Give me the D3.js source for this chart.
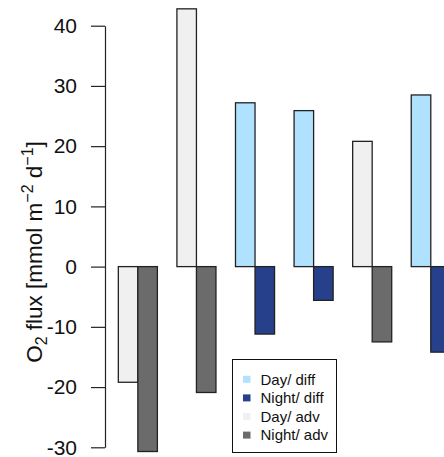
<!DOCTYPE html>
<html>
<head>
<meta charset="utf-8">
<script src="https://cdn.jsdelivr.net/npm/d3@7"></script>
<style>
  body { margin: 0; background: #fff; }
  text { font-family: "Liberation Sans", Arial, sans-serif; }
</style>
</head>
<body>
<script>
var width = 444,
    height = 457;

// values
var types = ["adv", "adv", "diff", "diff", "adv", "diff"];
var dayFlux = [-19.2, 42.8, 27.2, 25.9, 20.8, 28.5];
var nightFlux = [-30.7, -20.9, -11.2, -5.6, -12.5, -14.2];
var yTicks = [-30, -20, -10, 0, 10, 20, 30, 40];
var legendLabels = ["Day/ diff", "Night/ diff", "Day/ adv", "Night/ adv"];
var legendKeys = ["day_diff", "night_diff", "day_adv", "night_adv"];

var colors = {
  day_diff: "#b0e2ff",
  night_diff: "#26408b",
  day_adv: "#f0f0f0",
  night_adv: "#6b6b6b"
};

var svg = d3.select("body").append("svg")
    .attr("width", width)
    .attr("height", height);

var y = d3.scaleLinear().domain([-30, 40]).range([447.3, 25.7]);
// bar units, like barplot(beside=TRUE, space=c(0,1))
var x = d3.scaleLinear().domain([0, 18]).range([98.8, 450.3]);

var bars = [];
dayFlux.forEach(function(v, i) {
  bars.push({u: 1 + 3 * i, v: v, key: "day_" + types[i]});
  bars.push({u: 2 + 3 * i, v: nightFlux[i], key: "night_" + types[i]});
});

svg.selectAll("rect.bar")
    .data(bars)
  .enter().append("rect")
    .attr("class", "bar")
    .attr("x", function(d) { return x(d.u); })
    .attr("width", function(d) { return x(d.u + 1) - x(d.u); })
    .attr("y", function(d) { return y(Math.max(0, d.v)); })
    .attr("height", function(d) { return Math.abs(y(d.v) - y(0)); })
    .attr("fill", function(d) { return colors[d.key]; })
    .attr("stroke", "#222")
    .attr("stroke-width", 1.3);

// y axis, R style
var axis = svg.append("g")
    .attr("transform", "translate(105,0)")
    .call(d3.axisLeft(y).tickValues(yTicks)
      .tickFormat(function(d) { return String(d); })
      .tickSize(14).tickPadding(14).tickSizeOuter(0));
axis.select(".domain").attr("stroke", "#222").attr("stroke-width", 1.2);
axis.selectAll(".tick line").attr("stroke", "#222").attr("stroke-width", 1.2);
axis.selectAll(".tick text")
    .attr("fill", "#111")
    .style("font-size", "21px")
    .style("font-family", "'Liberation Sans', Arial, sans-serif");

// y label
var lab = svg.append("text")
    .attr("transform", "translate(42,252) rotate(-90)")
    .attr("text-anchor", "middle")
    .attr("fill", "#111")
    .style("font-size", "22.5px");
lab.append("tspan").text("O");
lab.append("tspan").attr("dy", 5).style("font-size", "16px").text("2");
lab.append("tspan").attr("dy", -5).text(" flux [mmol m");
lab.append("tspan").attr("dy", -9).style("font-size", "16px").text("\u22122");
lab.append("tspan").attr("dy", 9).text(" d");
lab.append("tspan").attr("dy", -9).style("font-size", "16px").text("\u22121");
lab.append("tspan").attr("dy", 9).text("]");

// legend
var legend = svg.append("g");
legend.append("rect")
    .attr("x", 232.5).attr("y", 359.5)
    .attr("width", 104).attr("height", 93)
    .attr("fill", "#fff")
    .attr("stroke", "#111")
    .attr("stroke-width", 1);

var rows = legend.selectAll("g.row")
    .data(legendLabels)
  .enter().append("g")
    .attr("class", "row")
    .attr("transform", function(d, i) { return "translate(0," + (379.3 + i * 18.6) + ")"; });
rows.append("rect")
    .attr("x", 243).attr("y", -3.5)
    .attr("width", 7.5).attr("height", 7)
    .attr("fill", function(d, i) { return colors[legendKeys[i]]; });
rows.append("text")
    .attr("x", 260.5)
    .attr("dy", "0.35em")
    .attr("fill", "#111")
    .style("font-size", "15px")
    .text(function(d) { return d; });
</script>
</body>
</html>
